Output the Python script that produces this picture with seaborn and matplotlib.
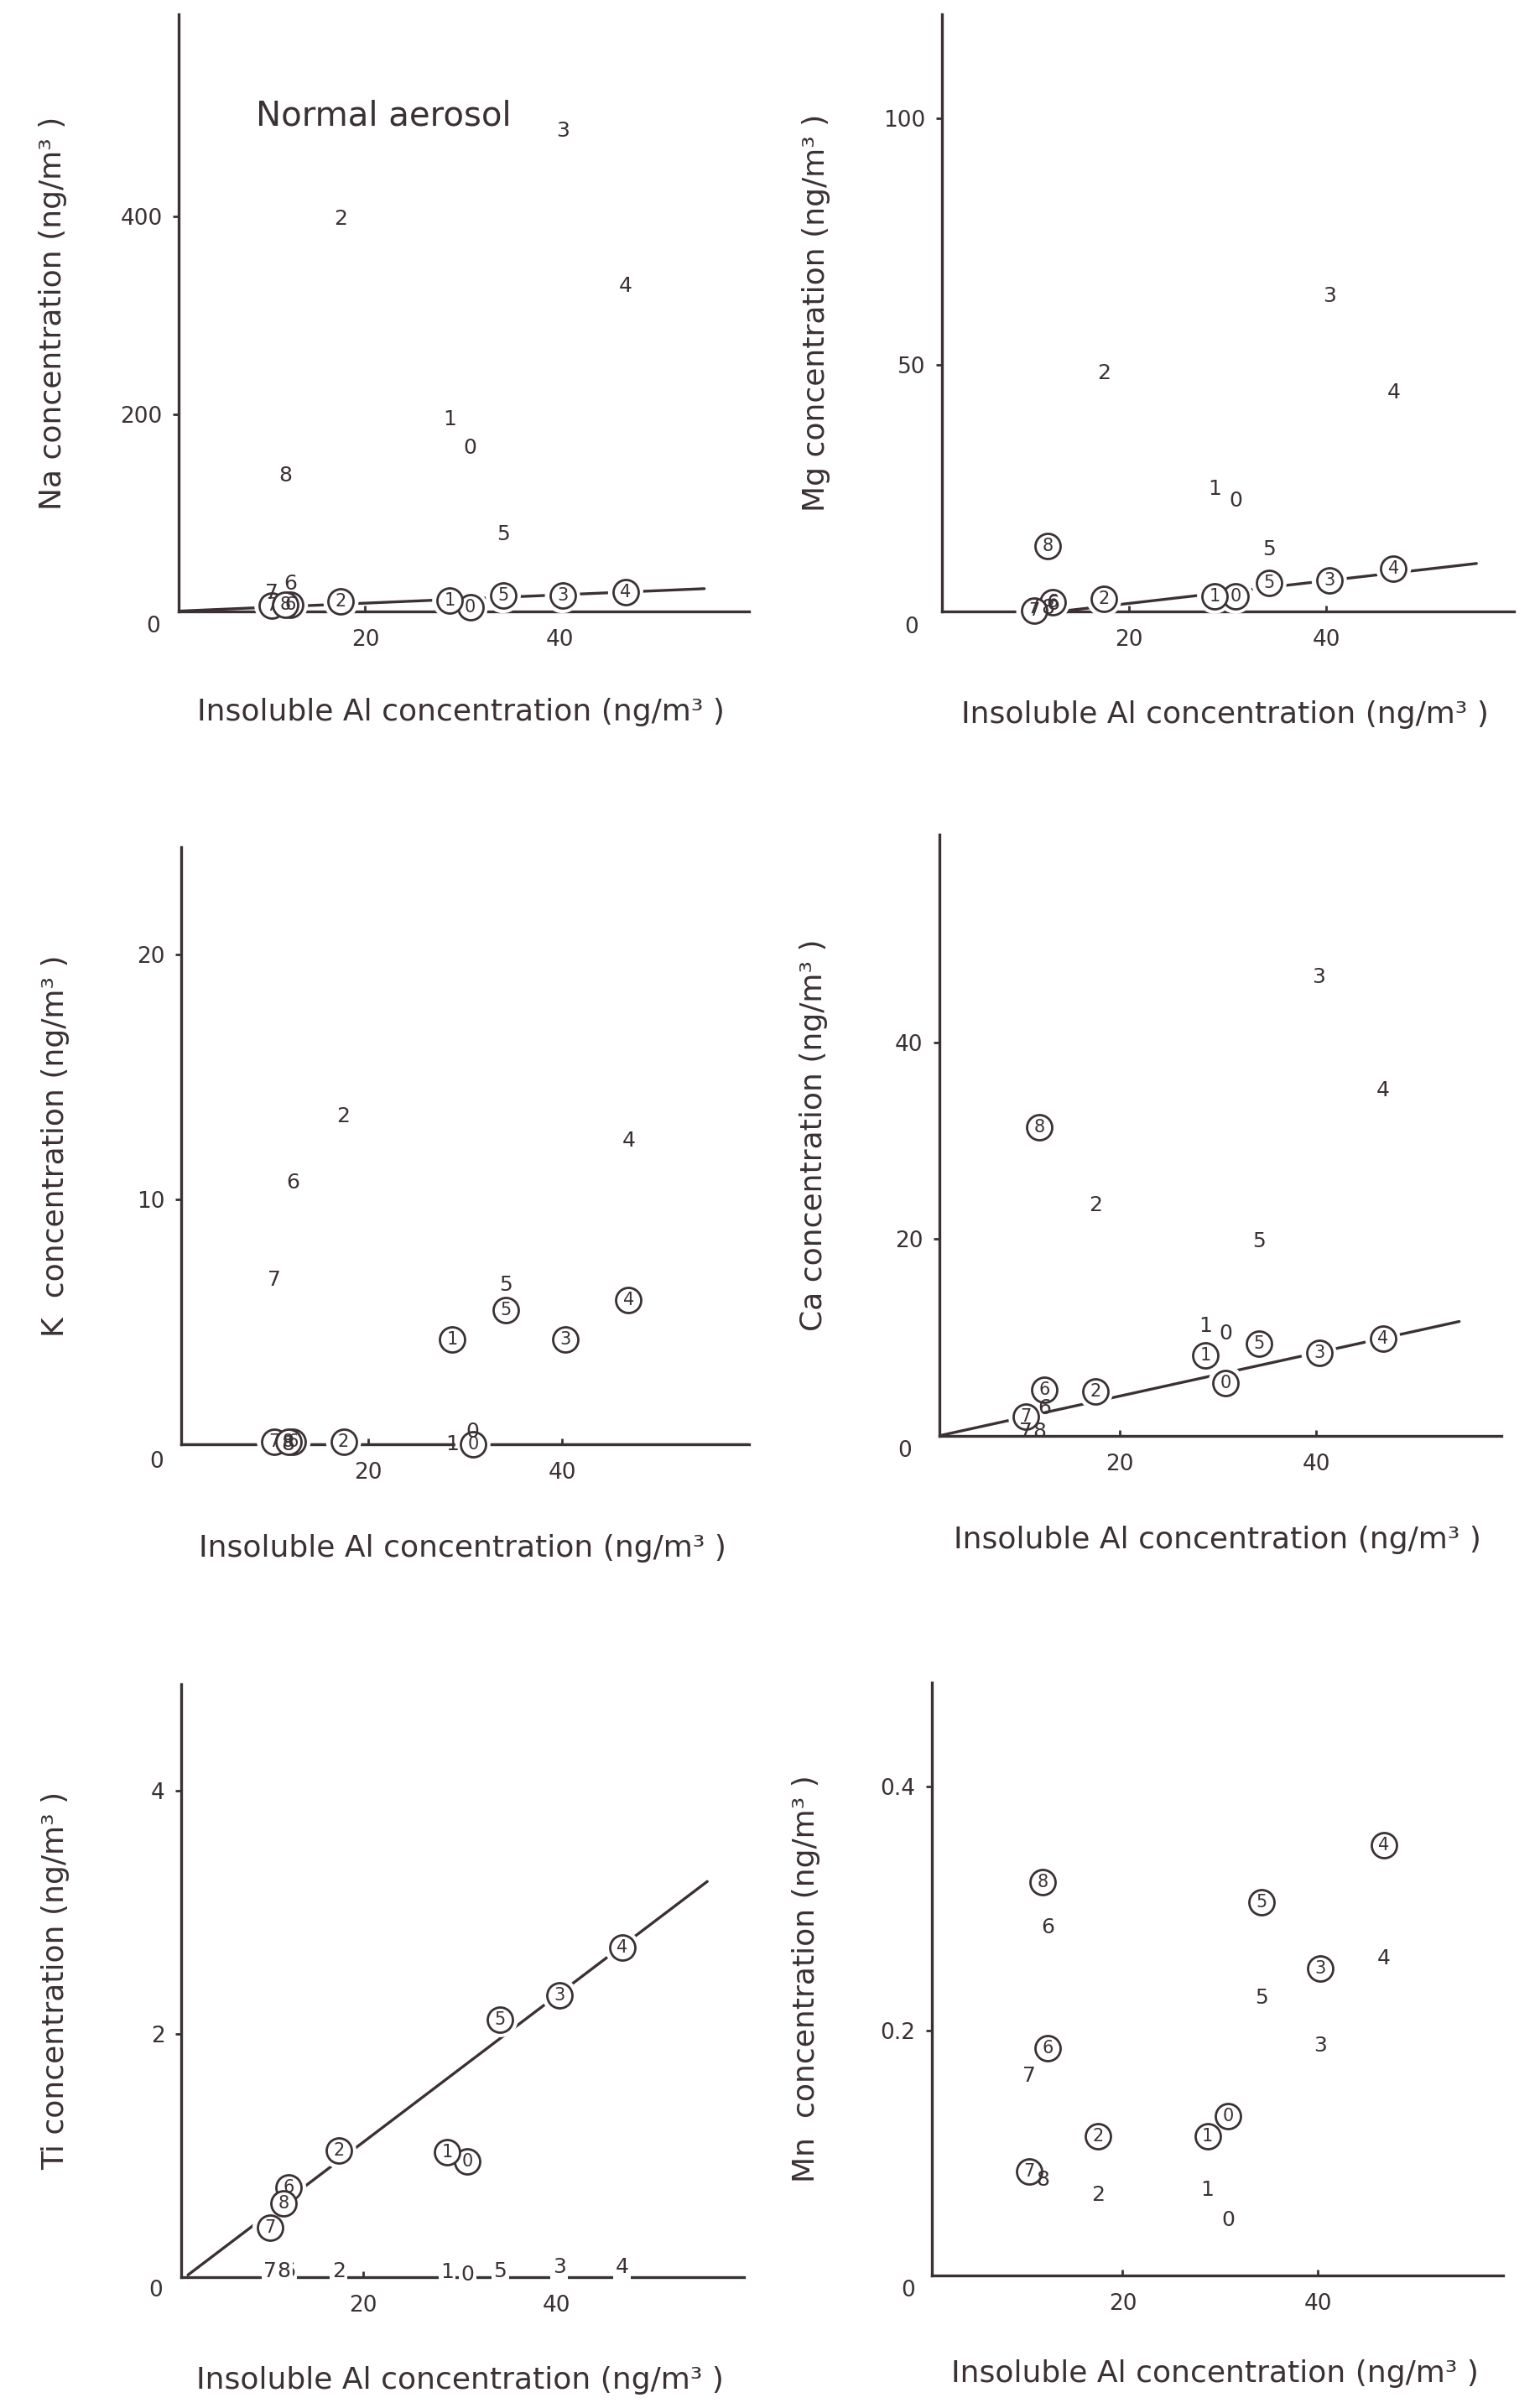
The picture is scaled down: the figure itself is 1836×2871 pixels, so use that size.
import matplotlib
matplotlib.use("Agg")
import matplotlib.pyplot as plt
import numpy as np
import seaborn as sns

# ---------------------------------------------------------------- data
samples = ["0", "1", "2", "3", "4", "5", "6", "7", "8"]
insoluble_al = [30.8, 28.7, 17.5, 40.3, 46.8, 34.2, 12.3, 10.4, 11.8]

# plain-number points and circled-number points for each element (ng/m3)
na_plain = [166, 195, 398, 487, 330, 78, 28, 19, 138]
na_circled = [4, 11, 10, 16, 19.5, 16, 7, 6, 7]

mg_plain = [22.4, 24.8, 48.2, 63.9, 44.3, 12.6, 1.5, 0.8, 0.6]
mg_circled = [3.1, 3.1, 2.5, 6.3, 8.7, 5.8, 1.9, 0.1, 13.3]

k_plain = [0.5, 0.0, 13.4, np.nan, 12.4, 6.5, 10.7, 6.7, 0.0]
k_circled = [0.0, 4.3, 0.1, 4.3, 5.9, 5.5, 0.1, 0.1, 0.1]

ca_plain = [10.4, 11.2, 23.4, 46.6, 35.1, 19.8, 2.8, 0.4, 0.4]
ca_circled = [5.4, 8.2, 4.5, 8.4, 9.9, 9.4, 4.7, 2.0, 31.4]

ti_plain = [0.02, 0.04, 0.05, 0.08, 0.08, 0.05, 0.05, 0.05, 0.05]
ti_circled = [0.95, 1.03, 1.04, 2.32, 2.71, 2.12, 0.74, 0.41, 0.61]

mn_plain = [0.045, 0.070, 0.066, 0.188, 0.259, 0.227, 0.285, 0.163, 0.078]
mn_circled = [0.130, 0.114, 0.114, 0.251, 0.352, 0.305, 0.186, 0.085, 0.322]

# regression lines through the circled points: slope, intercept, x start, x end
na_fit = [0.42, 0.0, 0.8, 54.9]
mg_fit = [0.23, -2.98, 13.0, 55.2]
k_fit = [0.0, 0.0, 0.8, 59.2]
ca_fit = [0.219, -0.33, 1.6, 54.6]
ti_fit = [0.0603, -0.0965, 1.9, 55.6]
mn_fit = None

elements = ["Na", "Mg", "K", "Ca", "Ti", "Mn"]
y_labels = ["Na concentration (ng/m³ )", "Mg concentration (ng/m³ )",
            "K  concentration (ng/m³ )", "Ca concentration (ng/m³ )",
            "Ti concentration (ng/m³ )", "Mn  concentration (ng/m³ )"]
x_label = "Insoluble Al concentration (ng/m³ )"
x_ticks = [20, 40]
y_ticks = [[200, 400], [50, 100], [10, 20], [20, 40], [2, 4], [0.2, 0.4]]
y_tick_labels = [["200", "400"], ["50", "100"], ["10", "20"],
                 ["20", "40"], ["2", "4"], ["0.2", "0.4"]]
annotation = "Normal aerosol"

# ---------------------------------------------------------------- style
sns.set_theme(style="white")
plt.rcParams["font.family"] = ["DejaVu Sans"]
INK = "#3a3035"

W, H = 1836, 2871
fig = plt.figure(figsize=(W / 100, H / 100), dpi=100)
fig.patch.set_facecolor("white")

# axes boxes in pixels: left, top, right, bottom
boxes = [(213, 17, 893, 729), (1123, 17, 1805, 729),
         (216, 1010, 893, 1722), (1120, 995, 1790, 1712),
         (216, 2008, 887, 2715), (1111, 2006, 1792, 2713)]
xlims = [(0.8, 59.5), (1.1, 59.0), (0.8, 59.2), (1.6, 58.9), (1.2, 59.4), (0.45, 59.0)]
ylims = [(0, 605), (0, 121), (0, 24.4), (0, 61.1), (0, 4.88), (0, 0.485)]
zero_offsets = [(-30, 18), (-36, 19), (-29, 21), (-41, 18), (-30, 16), (-28, 18)]
xlabel_drop = [120, 123, 124, 124, 123, 117]

plain_sets = [na_plain, mg_plain, k_plain, ca_plain, ti_plain, mn_plain]
circled_sets = [na_circled, mg_circled, k_circled, ca_circled, ti_circled, mn_circled]
fits = [na_fit, mg_fit, k_fit, ca_fit, ti_fit, mn_fit]

PX = 72 / 100  # points per pixel
circle_d = 30 * PX  # circle marker diameter in points

for idx in range(6):
    l, t, r, b = boxes[idx]
    ax = fig.add_axes([l / W, 1 - b / H, (r - l) / W, (b - t) / H])
    ax.set_facecolor("none")
    ax.set_xlim(*xlims[idx])
    ax.set_ylim(*ylims[idx])
    sns.despine(ax=ax)
    for side in ("left", "bottom"):
        ax.spines[side].set_color(INK)
        ax.spines[side].set_linewidth(2.4)

    ax.set_xticks(x_ticks)
    ax.set_xticklabels([str(v) for v in x_ticks])
    ax.set_yticks(y_ticks[idx])
    ax.set_yticklabels(y_tick_labels[idx])
    ax.tick_params(axis="x", direction="in", length=5, width=2, color=INK,
                   pad=15, labelsize=19, labelcolor=INK, bottom=True)
    ax.tick_params(axis="y", direction="out", length=5, width=2, color=INK,
                   pad=9, labelsize=19, labelcolor=INK, left=True)

    ax.annotate("0", xy=(0, 0), xycoords="axes fraction",
                xytext=(zero_offsets[idx][0] * PX, -zero_offsets[idx][1] * PX),
                textcoords="offset points", ha="center", va="center",
                fontsize=19, color=INK, annotation_clip=False)

    ax.set_xlabel(x_label, fontsize=26, color=INK)
    ax.xaxis.set_label_coords(0.495, -xlabel_drop[idx] / (b - t), transform=ax.transAxes)
    ax.set_ylabel(y_labels[idx], fontsize=26, color=INK)
    ax.yaxis.set_label_coords(-150 / (r - l), 0.5, transform=ax.transAxes)
    ax.xaxis.label.set_va("center")
    ax.yaxis.label.set_va("center")

    # regression line
    fit = fits[idx]
    if fit is not None:
        slope, icpt, x0, x1 = fit
        xs = np.array([x0, x1])
        sns.lineplot(x=xs, y=slope * xs + icpt, ax=ax, color=INK,
                     linewidth=2.4, zorder=2)

    circ = circled_sets[idx]
    plain = plain_sets[idx]

    # white halos break the line around each circled point
    sns.scatterplot(x=insoluble_al, y=circ, ax=ax, s=(circle_d * 1.4) ** 2,
                    color="white", edgecolor="none", linewidth=0, zorder=3)
    sns.scatterplot(x=insoluble_al, y=circ, ax=ax, s=circle_d ** 2,
                    color="white", edgecolor=INK, linewidth=2.0, zorder=4)
    for coll in ax.collections:
        coll.set_clip_on(False)

    for s, x, y in zip(samples, insoluble_al, circ):
        ax.text(x, y, s, ha="center", va="center", fontsize=15, color=INK,
                zorder=6, clip_on=False)

    for s, x, y in zip(samples, insoluble_al, plain):
        if np.isnan(y):
            continue
        kw = {}
        if elements[idx] == "Ti":
            kw["bbox"] = dict(boxstyle="square,pad=0.1", fc="white", ec="none")
        ax.text(x, y, s, ha="center", va="center", fontsize=18, color=INK,
                zorder=5, clip_on=False, **kw)

    if idx == 0:
        ax.text(21.9, 502, annotation, ha="center", va="center",
                fontsize=29, color=INK)

    if ax.get_legend() is not None:
        ax.get_legend().remove()

fig.savefig("out.png", dpi=100, facecolor="white")
